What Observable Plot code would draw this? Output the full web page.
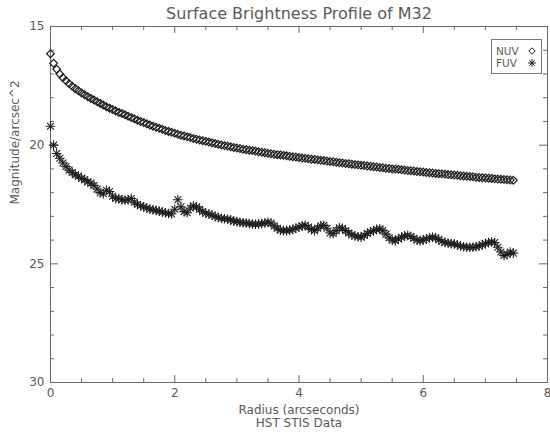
<!DOCTYPE html>
<html>
<head>
<meta charset="utf-8">
<script src="https://cdn.jsdelivr.net/npm/d3@7"></script>
<script src="https://cdn.jsdelivr.net/npm/@observablehq/plot@0.6"></script>
<style>
  body { margin: 0; background: #fff; }
  #wrap { position: relative; width: 550px; height: 435px; background: #fff; }
  #legend { position: absolute; left: 0; top: 0; }
</style>
</head>
<body>
<div id="wrap"></div>
<script>
// ---- data ----
const radius = [
  0.00,0.05,0.10,0.15,0.20,0.25,0.30,0.35,0.40,0.45,
  0.50,0.55,0.60,0.65,0.70,0.75,0.80,0.85,0.90,0.95,
  1.00,1.05,1.10,1.15,1.20,1.25,1.30,1.35,1.40,1.45,
  1.50,1.55,1.60,1.65,1.70,1.75,1.80,1.85,1.90,1.95,
  2.00,2.05,2.10,2.15,2.20,2.25,2.30,2.35,2.40,2.45,
  2.50,2.55,2.60,2.65,2.70,2.75,2.80,2.85,2.90,2.95,
  3.00,3.05,3.10,3.15,3.20,3.25,3.30,3.35,3.40,3.45,
  3.50,3.55,3.60,3.65,3.70,3.75,3.80,3.85,3.90,3.95,
  4.00,4.05,4.10,4.15,4.20,4.25,4.30,4.35,4.40,4.45,
  4.50,4.55,4.60,4.65,4.70,4.75,4.80,4.85,4.90,4.95,
  5.00,5.05,5.10,5.15,5.20,5.25,5.30,5.35,5.40,5.45,
  5.50,5.55,5.60,5.65,5.70,5.75,5.80,5.85,5.90,5.95,
  6.00,6.05,6.10,6.15,6.20,6.25,6.30,6.35,6.40,6.45,
  6.50,6.55,6.60,6.65,6.70,6.75,6.80,6.85,6.90,6.95,
  7.00,7.05,7.10,7.15,7.20,7.25,7.30,7.35,7.40,7.45
];
const nuvMag = [
  16.15,16.55,16.80,17.00,17.16,17.29,17.41,17.52,17.62,17.71,
  17.80,17.88,17.96,18.03,18.10,18.17,18.24,18.31,18.38,18.44,
  18.50,18.56,18.62,18.67,18.72,18.78,18.84,18.89,18.95,19.00,
  19.05,19.10,19.15,19.20,19.25,19.29,19.33,19.38,19.42,19.46,
  19.50,19.54,19.58,19.61,19.65,19.68,19.72,19.75,19.78,19.81,
  19.84,19.87,19.90,19.93,19.96,19.99,20.02,20.04,20.07,20.10,
  20.12,20.14,20.17,20.19,20.21,20.23,20.25,20.28,20.30,20.32,
  20.34,20.36,20.38,20.40,20.41,20.43,20.45,20.47,20.49,20.50,
  20.52,20.54,20.55,20.57,20.59,20.60,20.62,20.64,20.65,20.67,
  20.69,20.70,20.72,20.74,20.75,20.77,20.78,20.80,20.82,20.83,
  20.85,20.86,20.88,20.89,20.91,20.92,20.94,20.95,20.97,20.98,
  21.00,21.01,21.02,21.04,21.05,21.07,21.08,21.09,21.11,21.12,
  21.13,21.15,21.16,21.17,21.19,21.20,21.21,21.22,21.24,21.25,
  21.26,21.27,21.29,21.30,21.31,21.32,21.33,21.35,21.36,21.37,
  21.38,21.39,21.40,21.42,21.43,21.44,21.45,21.46,21.47,21.48
];
const fuvMag = [
  19.20,20.00,20.35,20.55,20.75,20.90,21.05,21.15,21.25,21.30,
  21.40,21.45,21.55,21.60,21.70,21.85,22.00,22.05,21.90,21.95,
  22.15,22.25,22.25,22.30,22.32,22.30,22.25,22.40,22.50,22.55,
  22.60,22.65,22.70,22.72,22.75,22.78,22.82,22.85,22.88,22.90,
  22.70,22.30,22.60,22.80,22.85,22.65,22.55,22.60,22.70,22.80,
  22.87,22.90,22.95,23.00,23.05,23.08,23.10,23.12,23.15,23.20,
  23.22,23.25,23.27,23.28,23.30,23.32,23.33,23.32,23.30,23.28,
  23.25,23.28,23.40,23.50,23.58,23.60,23.60,23.58,23.55,23.50,
  23.45,23.40,23.38,23.45,23.55,23.60,23.50,23.40,23.38,23.50,
  23.70,23.72,23.60,23.48,23.50,23.60,23.70,23.78,23.83,23.86,
  23.88,23.80,23.72,23.65,23.60,23.55,23.52,23.60,23.75,23.90,
  24.00,24.02,23.95,23.88,23.82,23.80,23.85,23.92,24.00,24.02,
  24.00,23.95,23.90,23.88,23.90,23.98,24.05,24.10,24.12,24.15,
  24.16,24.20,24.25,24.28,24.30,24.30,24.30,24.28,24.25,24.20,
  24.15,24.10,24.08,24.10,24.30,24.50,24.65,24.60,24.50,24.55
];
const xTickValues = [0, 2, 4, 6, 8];
const xMinorTicks = [0.5, 1, 1.5, 2.5, 3, 3.5, 4.5, 5, 5.5, 6.5, 7, 7.5];
const yTickValues = [15, 20, 25, 30];
const yMinorTicks = [16, 17, 18, 19, 21, 22, 23, 24, 26, 27, 28, 29];
const seriesNames = ["NUV", "FUV"];
const titleText = "Surface Brightness Profile of M32";
const xLabelText = "Radius (arcseconds)";
const captionText = "HST STIS Data";
const yLabelText = "Magnitude/arcsec^2";

// ---- layout ----
const W = 550, H = 435;
const mL = 50, mR = 3, mT = 26, mB = 53;
const ph = H - mT - mB, pw = W - mL - mR;
const axisColor = "#6a6a6a", textColor = "#5a5a5a", markColor = "#1e1e1e";
const font = "DejaVu Sans";

const data = radius.map((r, i) => ({r, nuv: nuvMag[i], fuv: fuvMag[i]}));

const chart = Plot.plot({
  width: W, height: H,
  marginLeft: mL, marginRight: mR, marginTop: mT, marginBottom: mB,
  style: {fontFamily: font, fontSize: "12px", color: textColor, background: "#fff", overflow: "visible"},
  x: {domain: [0, 8], ticks: xTickValues, tickSize: 0, tickPadding: 6, label: null},
  y: {domain: [15, 30], reverse: true, ticks: yTickValues, tickSize: 0, tickPadding: 6, label: null},
  marks: [
    Plot.frame({stroke: axisColor}),
    // major / minor ticks pointing inward on all sides
    Plot.tickX(xTickValues, {x: d => d, insetTop: ph - 7, stroke: axisColor}),
    Plot.tickX(xTickValues, {x: d => d, insetBottom: ph - 7, stroke: axisColor}),
    Plot.tickX(xMinorTicks, {x: d => d, insetTop: ph - 4, stroke: axisColor}),
    Plot.tickX(xMinorTicks, {x: d => d, insetBottom: ph - 4, stroke: axisColor}),
    Plot.tickY(yTickValues, {y: d => d, insetRight: pw - 8, stroke: axisColor}),
    Plot.tickY(yTickValues, {y: d => d, insetLeft: pw - 8, stroke: axisColor}),
    Plot.tickY(yMinorTicks, {y: d => d, insetRight: pw - 4, stroke: axisColor}),
    Plot.tickY(yMinorTicks, {y: d => d, insetLeft: pw - 4, stroke: axisColor}),
    // NUV diamonds
    Plot.dot(data, {x: "r", y: "nuv", symbol: "diamond2", r: 3.5, stroke: markColor, strokeWidth: 1.2, fill: "none"}),
    // FUV asterisks (plus + times)
    Plot.dot(data, {x: "r", y: "fuv", symbol: "plus", r: 3.2, stroke: markColor, strokeWidth: 1.1}),
    Plot.dot(data, {x: "r", y: "fuv", symbol: "times", r: 3.2, stroke: markColor, strokeWidth: 1.1}),
    // texts
    Plot.text([titleText], {text: d => d, frameAnchor: "top", lineAnchor: "middle", dy: -13, fontSize: 16, fill: textColor}),
    Plot.text([xLabelText], {text: d => d, frameAnchor: "bottom", lineAnchor: "middle", dy: 28, fontSize: 12, fill: textColor}),
    Plot.text([captionText], {text: d => d, frameAnchor: "bottom", lineAnchor: "middle", dy: 41, fontSize: 12, fill: textColor}),
    Plot.text([yLabelText], {text: d => d, frameAnchor: "left", lineAnchor: "middle", dx: -35, rotate: -90, fontSize: 12, fill: textColor})
  ]
});
document.getElementById("wrap").appendChild(chart);

// ---- legend box (top right) ----
const lg = d3.select("#wrap").append("svg").attr("id", "legend")
  .attr("width", W).attr("height", H).style("pointer-events", "none");
lg.append("rect").attr("x", 491.5).attr("y", 39.5).attr("width", 50).attr("height", 34)
  .attr("fill", "#fff").attr("stroke", "#777");
const rows = [
  {name: seriesNames[0], y: 51, syms: [d3.symbolDiamond2], size: 26},
  {name: seriesNames[1], y: 63, syms: [d3.symbolPlus, d3.symbolTimes], size: 22}
];
rows.forEach(row => {
  lg.append("text").attr("x", 496).attr("y", row.y).attr("dy", "0.35em")
    .attr("font-family", font).attr("font-size", 10.5).attr("fill", textColor).text(row.name);
  row.syms.forEach(s => {
    lg.append("path").attr("transform", `translate(532,${row.y})`)
      .attr("d", d3.symbol(s, row.size)()).attr("fill", "none")
      .attr("stroke", markColor).attr("stroke-width", 1);
  });
});
</script>
</body>
</html>
